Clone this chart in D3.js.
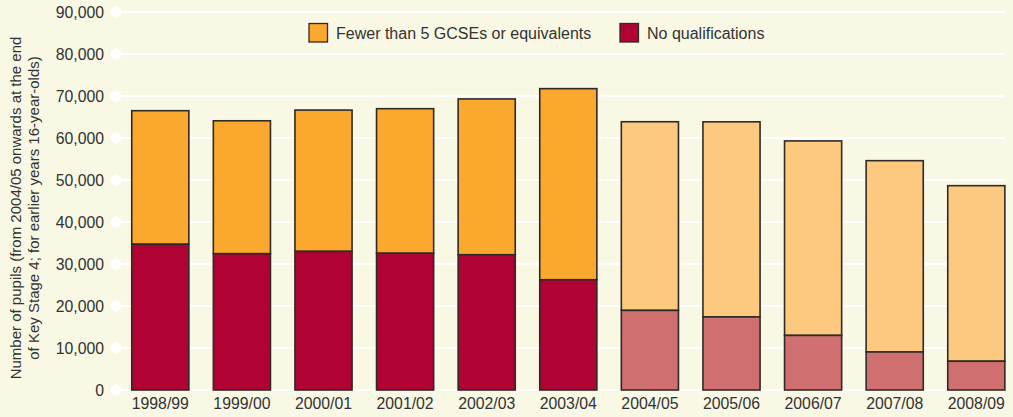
<!DOCTYPE html>
<html><head><meta charset="utf-8">
<script src="https://cdn.jsdelivr.net/npm/d3@7"></script>
<style>
html,body{margin:0;padding:0;background:#f8f8e4;}
svg{display:block;font-family:"Liberation Sans",Arial,sans-serif;}
</style></head>
<body><svg id="c" width="1013" height="417"></svg>
<script>
const years = ["1998/99","1999/00","2000/01","2001/02","2002/03","2003/04","2004/05","2005/06","2006/07","2007/08","2008/09"];
const noQual = [34700,32450,33000,32550,32200,26250,18950,17400,13000,9050,6850];
const totals = [66500,64100,66650,66980,69300,71750,63870,63850,59300,54600,48650];
const yTicks = [0,10000,20000,30000,40000,50000,60000,70000,80000,90000];
const newBasisFrom = "2004/05";
const legendLabels = ["Fewer than 5 GCSEs or equivalents","No qualifications"];

const svg = d3.select("#c");
const W = 1013, H = 417;
svg.append("rect").attr("width",W).attr("height",H).attr("fill","#f8f8e4");

const y = d3.scaleLinear().domain([0,90000]).range([390,12]);
const x = d3.scaleBand().domain(years).range([119.5,1017.1]).paddingInner(0.3).paddingOuter(0.15);
const newIdx = years.indexOf(newBasisFrom);

// gridlines
const grid = svg.append("g");
grid.selectAll("line").data(yTicks).join("line")
  .attr("x1",116).attr("x2",1005)
  .attr("y1",d=>y(d)).attr("y2",d=>y(d))
  .attr("stroke","#ffffff").attr("stroke-width",2.2);
grid.selectAll("circle").data(yTicks).join("circle")
  .attr("cx",116).attr("cy",d=>y(d)).attr("r",5.5).attr("fill","#ffffff");

// y axis labels
const fmt = d3.format(",");
const yAxis = d3.axisLeft(y).tickValues(yTicks).tickFormat(d=>fmt(d)).tickSize(0).tickPadding(0);
const ga = svg.append("g").attr("transform","translate(104,0)").call(yAxis);
ga.select(".domain").remove();
ga.selectAll("text").attr("font-size",15.8).attr("fill","#333").attr("font-family","Liberation Sans, Arial, sans-serif").attr("dy","0.35em");

// bars
const rows = years.map((yr,i)=>({yr,i,nq:noQual[i],tot:totals[i]}));
const colTopOld="#faa92e", colTopNew="#fdc97f", colBotOld="#b00334", colBotNew="#cf6f6f";
const bars = svg.append("g");
bars.selectAll("rect.top").data(rows).join("rect").attr("class","top")
  .attr("x",d=>x(d.yr)).attr("width",x.bandwidth())
  .attr("y",d=>y(d.tot)).attr("height",d=>y(d.nq)-y(d.tot))
  .attr("fill",d=>d.i>=newIdx?colTopNew:colTopOld)
  .attr("stroke","#2e2a26").attr("stroke-width",1.6);
bars.selectAll("rect.bot").data(rows).join("rect").attr("class","bot")
  .attr("x",d=>x(d.yr)).attr("width",x.bandwidth())
  .attr("y",d=>y(d.nq)).attr("height",d=>y(0)-y(d.nq))
  .attr("fill",d=>d.i>=newIdx?colBotNew:colBotOld)
  .attr("stroke","#2e2a26").attr("stroke-width",1.6);

// x axis labels
const xAxis = d3.axisBottom(x).tickSize(0).tickPadding(0);
const gx = svg.append("g").attr("transform","translate(0,398)").call(xAxis);
gx.select(".domain").remove();
gx.selectAll("text").attr("font-size",15.8).attr("fill","#333").attr("font-family","Liberation Sans, Arial, sans-serif").attr("dy","0.71em");

// y title
const yt = svg.append("text").attr("transform","translate(27,208) rotate(-90)")
  .attr("text-anchor","middle").attr("font-size",15).attr("fill","#333");
yt.append("tspan").attr("x",0).attr("dy","-0.4em").text("Number of pupils (from 2004/05 onwards at the end");
yt.append("tspan").attr("x",0).attr("dy","1.2em").text("of Key Stage 4; for earlier years 16-year-olds)");

// legend
const leg = [{label:legendLabels[0],color:colTopOld,x:309},{label:legendLabels[1],color:colBotOld,x:620}];
const lg = svg.append("g");
leg.forEach(l=>{
  lg.append("rect").attr("x",l.x).attr("y",23.5).attr("width",18.5).attr("height",18.5)
    .attr("fill",l.color).attr("stroke","#2e2a26").attr("stroke-width",1.3);
  lg.append("text").attr("x",l.x+27).attr("y",38.5).attr("font-size",16).attr("fill","#333").text(l.label);
});
</script></body></html>
